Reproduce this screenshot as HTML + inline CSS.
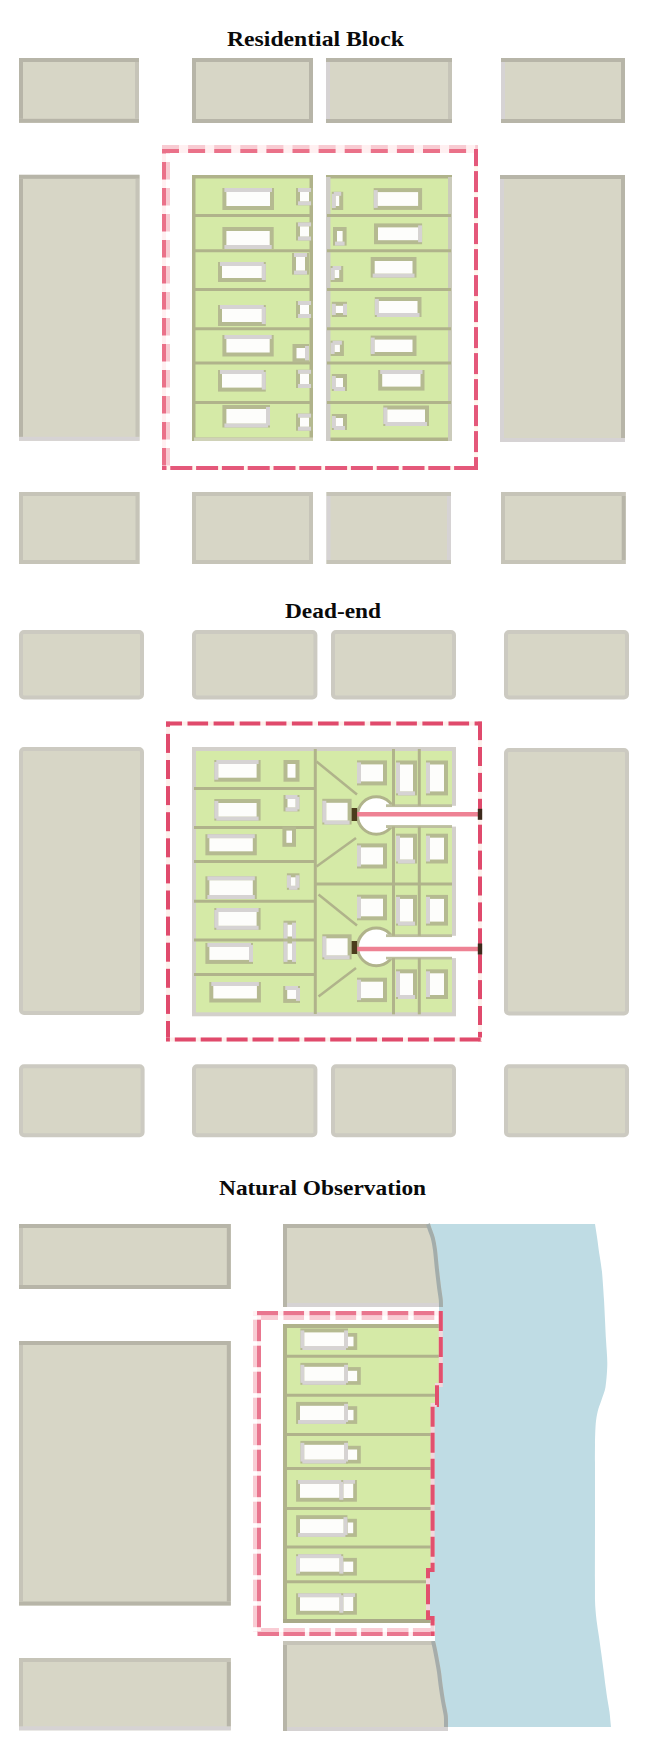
<!DOCTYPE html>
<html><head><meta charset="utf-8"><style>
html,body{margin:0;padding:0;background:#ffffff;}
body{width:655px;height:1749px;position:relative;overflow:hidden;}
svg{position:absolute;left:0;top:0;}
.t{position:absolute;font-family:"Liberation Serif",serif;font-weight:bold;font-size:21px;color:#0a0a0a;white-space:nowrap;line-height:1;transform-origin:0 0;}
</style></head><body>
<svg width="655" height="1749" viewBox="0 0 655 1749" shape-rendering="geometricPrecision">
<rect x="19.00" y="58.00" width="120.00" height="64.80" rx="0" fill="#d7d6c6" />
<rect x="19.00" y="58.00" width="120.00" height="4.00" rx="0" fill="#b7b5a8" />
<rect x="19.00" y="118.80" width="120.00" height="4.00" rx="0" fill="#b7b5a8" />
<rect x="19.00" y="62.00" width="4.00" height="56.80" rx="0" fill="#b7b5a8" />
<rect x="135.00" y="62.00" width="4.00" height="56.80" rx="0" fill="#c6c4b8" />
<rect x="192.00" y="58.00" width="121.00" height="65.00" rx="0" fill="#d7d6c6" />
<rect x="192.00" y="58.00" width="121.00" height="4.00" rx="0" fill="#b7b5a8" />
<rect x="192.00" y="119.00" width="121.00" height="4.00" rx="0" fill="#b7b5a8" />
<rect x="192.00" y="62.00" width="4.00" height="57.00" rx="0" fill="#b7b5a8" />
<rect x="309.00" y="62.00" width="4.00" height="57.00" rx="0" fill="#b7b5a8" />
<rect x="326.00" y="58.00" width="126.00" height="65.00" rx="0" fill="#d7d6c6" />
<rect x="326.00" y="58.00" width="126.00" height="4.00" rx="0" fill="#b7b5a8" />
<rect x="326.00" y="119.00" width="126.00" height="4.00" rx="0" fill="#b7b5a8" />
<rect x="326.00" y="62.00" width="4.00" height="57.00" rx="0" fill="#d6d3d4" />
<rect x="448.00" y="62.00" width="4.00" height="57.00" rx="0" fill="#c6c4b8" />
<rect x="501.00" y="58.00" width="124.00" height="65.00" rx="0" fill="#d7d6c6" />
<rect x="501.00" y="58.00" width="124.00" height="4.00" rx="0" fill="#b7b5a8" />
<rect x="501.00" y="119.00" width="124.00" height="4.00" rx="0" fill="#b7b5a8" />
<rect x="501.00" y="62.00" width="4.00" height="57.00" rx="0" fill="#d6d3d4" />
<rect x="621.00" y="62.00" width="4.00" height="57.00" rx="0" fill="#b7b5a8" />
<rect x="19.00" y="174.80" width="120.50" height="266.00" rx="0" fill="#d7d6c6" />
<rect x="19.00" y="174.80" width="120.50" height="4.00" rx="0" fill="#b7b5a8" />
<rect x="19.00" y="436.80" width="120.50" height="4.00" rx="0" fill="#d6d3d4" />
<rect x="19.00" y="178.80" width="4.00" height="258.00" rx="0" fill="#b7b5a8" />
<rect x="135.50" y="178.80" width="4.00" height="258.00" rx="0" fill="#c6c4b8" />
<rect x="500.00" y="175.00" width="125.00" height="267.00" rx="0" fill="#d7d6c6" />
<rect x="500.00" y="175.00" width="125.00" height="4.00" rx="0" fill="#b7b5a8" />
<rect x="500.00" y="438.00" width="125.00" height="4.00" rx="0" fill="#d6d3d4" />
<rect x="500.00" y="179.00" width="4.00" height="259.00" rx="0" fill="#d6d3d4" />
<rect x="621.00" y="179.00" width="4.00" height="259.00" rx="0" fill="#b7b5a8" />
<rect x="19.00" y="492.00" width="120.50" height="72.00" rx="0" fill="#d7d6c6" />
<rect x="19.00" y="492.00" width="120.50" height="4.00" rx="0" fill="#c6c4b8" />
<rect x="19.00" y="560.00" width="120.50" height="4.00" rx="0" fill="#c6c4b8" />
<rect x="19.00" y="496.00" width="4.00" height="64.00" rx="0" fill="#c6c4b8" />
<rect x="135.50" y="496.00" width="4.00" height="64.00" rx="0" fill="#c6c4b8" />
<rect x="192.00" y="492.00" width="121.00" height="72.00" rx="0" fill="#d7d6c6" />
<rect x="192.00" y="492.00" width="121.00" height="4.00" rx="0" fill="#c6c4b8" />
<rect x="192.00" y="560.00" width="121.00" height="4.00" rx="0" fill="#c6c4b8" />
<rect x="192.00" y="496.00" width="4.00" height="64.00" rx="0" fill="#c6c4b8" />
<rect x="309.00" y="496.00" width="4.00" height="64.00" rx="0" fill="#c6c4b8" />
<rect x="326.50" y="492.00" width="124.50" height="72.00" rx="0" fill="#d7d6c6" />
<rect x="326.50" y="492.00" width="124.50" height="4.00" rx="0" fill="#c6c4b8" />
<rect x="326.50" y="560.00" width="124.50" height="4.00" rx="0" fill="#c6c4b8" />
<rect x="326.50" y="496.00" width="4.00" height="64.00" rx="0" fill="#d6d3d4" />
<rect x="447.00" y="496.00" width="4.00" height="64.00" rx="0" fill="#d6d3d4" />
<rect x="501.00" y="492.00" width="124.70" height="72.00" rx="0" fill="#d7d6c6" />
<rect x="501.00" y="492.00" width="124.70" height="4.00" rx="0" fill="#c6c4b8" />
<rect x="501.00" y="560.00" width="124.70" height="4.00" rx="0" fill="#c6c4b8" />
<rect x="501.00" y="496.00" width="4.00" height="64.00" rx="0" fill="#c6c4b8" />
<rect x="621.70" y="496.00" width="4.00" height="64.00" rx="0" fill="#b7b5a8" />
<rect x="193.75" y="176.75" width="117.50" height="262.50" rx="0" fill="#d5eaa7" stroke="#b0b38b" stroke-width="3.5" />
<rect x="327.75" y="176.75" width="122.50" height="262.50" rx="0" fill="#d5eaa7" stroke="#b0b38b" stroke-width="3.5" />
<rect x="326.00" y="177.00" width="4.50" height="264.00" rx="0" fill="#cfcdc8" />
<rect x="448.00" y="177.00" width="4.00" height="264.00" rx="0" fill="#cbcbbb" />
<rect x="194.00" y="437.50" width="119.00" height="3.50" rx="0" fill="#d0d2b8" />
<line x1="193.00" y1="215.50" x2="312.00" y2="215.50" stroke="#b0b38b" stroke-width="3"/>
<line x1="327.00" y1="215.50" x2="451.00" y2="215.50" stroke="#b0b38b" stroke-width="3"/>
<line x1="193.00" y1="250.80" x2="312.00" y2="250.80" stroke="#b0b38b" stroke-width="3"/>
<line x1="327.00" y1="250.80" x2="451.00" y2="250.80" stroke="#b0b38b" stroke-width="3"/>
<line x1="193.00" y1="289.60" x2="312.00" y2="289.60" stroke="#b0b38b" stroke-width="3"/>
<line x1="327.00" y1="289.60" x2="451.00" y2="289.60" stroke="#b0b38b" stroke-width="3"/>
<line x1="193.00" y1="328.70" x2="312.00" y2="328.70" stroke="#b0b38b" stroke-width="3"/>
<line x1="327.00" y1="328.70" x2="451.00" y2="328.70" stroke="#b0b38b" stroke-width="3"/>
<line x1="193.00" y1="362.90" x2="312.00" y2="362.90" stroke="#b0b38b" stroke-width="3"/>
<line x1="327.00" y1="362.90" x2="451.00" y2="362.90" stroke="#b0b38b" stroke-width="3"/>
<line x1="193.00" y1="402.50" x2="312.00" y2="402.50" stroke="#b0b38b" stroke-width="3"/>
<line x1="327.00" y1="402.50" x2="451.00" y2="402.50" stroke="#b0b38b" stroke-width="3"/>
<rect x="222.40" y="188.00" width="51.60" height="22.00" rx="0" fill="#b5ba91" />
<rect x="224.40" y="188.00" width="47.60" height="4.00" rx="0" fill="#d6d3d3" />
<rect x="226.40" y="192.00" width="43.60" height="14.00" rx="0" fill="#fdfdfb" />
<rect x="222.40" y="227.00" width="51.30" height="22.00" rx="0" fill="#b5ba91" />
<rect x="224.40" y="245.00" width="47.30" height="4.00" rx="0" fill="#d6d3d3" />
<rect x="226.40" y="231.00" width="43.30" height="14.00" rx="0" fill="#fdfdfb" />
<rect x="218.00" y="262.00" width="47.80" height="20.00" rx="0" fill="#b5ba91" />
<rect x="220.00" y="262.00" width="43.80" height="4.00" rx="0" fill="#d6d3d3" />
<rect x="261.80" y="264.00" width="4.00" height="16.00" rx="0" fill="#d6d3d3" />
<rect x="222.00" y="266.00" width="39.80" height="12.00" rx="0" fill="#fdfdfb" />
<rect x="218.00" y="305.00" width="47.80" height="21.00" rx="0" fill="#b5ba91" />
<rect x="220.00" y="305.00" width="43.80" height="4.00" rx="0" fill="#d6d3d3" />
<rect x="261.80" y="307.00" width="4.00" height="17.00" rx="0" fill="#d6d3d3" />
<rect x="222.00" y="309.00" width="39.80" height="13.00" rx="0" fill="#fdfdfb" />
<rect x="222.40" y="335.00" width="51.30" height="21.50" rx="0" fill="#b5ba91" />
<rect x="224.40" y="335.00" width="47.30" height="4.00" rx="0" fill="#d6d3d3" />
<rect x="226.40" y="339.00" width="43.30" height="13.50" rx="0" fill="#fdfdfb" />
<rect x="218.00" y="370.00" width="47.80" height="21.60" rx="0" fill="#b5ba91" />
<rect x="220.00" y="370.00" width="43.80" height="4.00" rx="0" fill="#d6d3d3" />
<rect x="261.80" y="372.00" width="4.00" height="17.60" rx="0" fill="#d6d3d3" />
<rect x="222.00" y="374.00" width="39.80" height="13.60" rx="0" fill="#fdfdfb" />
<rect x="222.40" y="405.00" width="47.60" height="22.50" rx="0" fill="#b5ba91" />
<rect x="224.40" y="423.50" width="43.60" height="4.00" rx="0" fill="#d6d3d3" />
<rect x="266.00" y="407.00" width="4.00" height="18.50" rx="0" fill="#d6d3d3" />
<rect x="226.40" y="409.00" width="39.60" height="14.50" rx="0" fill="#fdfdfb" />
<rect x="296.00" y="188.00" width="17.00" height="17.30" rx="0" fill="#b5ba91" />
<rect x="298.00" y="188.00" width="13.00" height="4.00" rx="0" fill="#d6d3d3" />
<rect x="298.00" y="201.30" width="13.00" height="4.00" rx="0" fill="#d6d3d3" />
<rect x="300.00" y="192.00" width="9.00" height="9.30" rx="0" fill="#fdfdfb" />
<rect x="296.00" y="222.40" width="17.00" height="18.10" rx="0" fill="#b5ba91" />
<rect x="298.00" y="222.40" width="13.00" height="4.00" rx="0" fill="#d6d3d3" />
<rect x="298.00" y="236.50" width="13.00" height="4.00" rx="0" fill="#d6d3d3" />
<rect x="300.00" y="226.40" width="9.00" height="10.10" rx="0" fill="#fdfdfb" />
<rect x="292.00" y="253.00" width="17.00" height="21.60" rx="0" fill="#b5ba91" />
<rect x="294.00" y="253.00" width="13.00" height="4.00" rx="0" fill="#d6d3d3" />
<rect x="294.00" y="270.60" width="13.00" height="4.00" rx="0" fill="#d6d3d3" />
<rect x="296.00" y="257.00" width="9.00" height="13.60" rx="0" fill="#fdfdfb" />
<rect x="296.00" y="301.00" width="17.00" height="17.00" rx="0" fill="#b5ba91" />
<rect x="298.00" y="301.00" width="13.00" height="4.00" rx="0" fill="#d6d3d3" />
<rect x="298.00" y="314.00" width="13.00" height="4.00" rx="0" fill="#d6d3d3" />
<rect x="300.00" y="305.00" width="9.00" height="9.00" rx="0" fill="#fdfdfb" />
<rect x="292.50" y="344.00" width="16.50" height="18.30" rx="0" fill="#b5ba91" />
<rect x="305.00" y="346.00" width="4.00" height="14.30" rx="0" fill="#d6d3d3" />
<rect x="296.50" y="348.00" width="8.50" height="10.30" rx="0" fill="#fdfdfb" />
<rect x="296.00" y="369.80" width="17.00" height="18.20" rx="0" fill="#b5ba91" />
<rect x="298.00" y="369.80" width="13.00" height="4.00" rx="0" fill="#d6d3d3" />
<rect x="298.00" y="384.00" width="13.00" height="4.00" rx="0" fill="#d6d3d3" />
<rect x="300.00" y="373.80" width="9.00" height="10.20" rx="0" fill="#fdfdfb" />
<rect x="296.00" y="413.60" width="17.00" height="17.10" rx="0" fill="#b5ba91" />
<rect x="298.00" y="413.60" width="13.00" height="4.00" rx="0" fill="#d6d3d3" />
<rect x="298.00" y="426.70" width="13.00" height="4.00" rx="0" fill="#d6d3d3" />
<rect x="300.00" y="417.60" width="9.00" height="9.10" rx="0" fill="#fdfdfb" />
<rect x="373.70" y="188.10" width="48.40" height="21.80" rx="0" fill="#b5ba91" />
<rect x="373.70" y="190.10" width="4.00" height="17.80" rx="0" fill="#d6d3d3" />
<rect x="377.70" y="192.10" width="40.40" height="13.80" rx="0" fill="#fdfdfb" />
<rect x="374.00" y="223.40" width="48.10" height="20.80" rx="0" fill="#b5ba91" />
<rect x="418.10" y="225.40" width="4.00" height="16.80" rx="0" fill="#d6d3d3" />
<rect x="378.00" y="227.40" width="40.10" height="12.80" rx="0" fill="#fdfdfb" />
<rect x="370.70" y="257.00" width="45.80" height="20.60" rx="0" fill="#b5ba91" />
<rect x="372.70" y="273.60" width="41.80" height="4.00" rx="0" fill="#d6d3d3" />
<rect x="374.70" y="261.00" width="37.80" height="12.60" rx="0" fill="#fdfdfb" />
<rect x="374.80" y="297.00" width="46.70" height="20.00" rx="0" fill="#b5ba91" />
<rect x="376.80" y="313.00" width="42.70" height="4.00" rx="0" fill="#d6d3d3" />
<rect x="374.80" y="299.00" width="4.00" height="16.00" rx="0" fill="#d6d3d3" />
<rect x="378.80" y="301.00" width="38.70" height="12.00" rx="0" fill="#fdfdfb" />
<rect x="370.70" y="335.60" width="45.80" height="20.40" rx="0" fill="#b5ba91" />
<rect x="370.70" y="337.60" width="4.00" height="16.40" rx="0" fill="#d6d3d3" />
<rect x="374.70" y="339.60" width="37.80" height="12.40" rx="0" fill="#fdfdfb" />
<rect x="378.20" y="370.00" width="46.30" height="20.60" rx="0" fill="#b5ba91" />
<rect x="380.20" y="370.00" width="42.30" height="4.00" rx="0" fill="#d6d3d3" />
<rect x="382.20" y="374.00" width="38.30" height="12.60" rx="0" fill="#fdfdfb" />
<rect x="383.30" y="405.50" width="45.70" height="20.50" rx="0" fill="#b5ba91" />
<rect x="385.30" y="422.00" width="41.70" height="4.00" rx="0" fill="#d6d3d3" />
<rect x="383.30" y="407.50" width="4.00" height="16.50" rx="0" fill="#d6d3d3" />
<rect x="387.30" y="409.50" width="37.70" height="12.50" rx="0" fill="#fdfdfb" />
<rect x="331.80" y="191.80" width="11.40" height="18.20" rx="0" fill="#b5ba91" />
<rect x="333.80" y="191.80" width="7.40" height="4.00" rx="0" fill="#d6d3d3" />
<rect x="331.80" y="193.80" width="4.00" height="14.20" rx="0" fill="#d6d3d3" />
<rect x="335.80" y="195.80" width="3.40" height="10.20" rx="0" fill="#fdfdfb" />
<rect x="333.00" y="227.00" width="13.60" height="18.60" rx="0" fill="#b5ba91" />
<rect x="335.00" y="241.60" width="9.60" height="4.00" rx="0" fill="#d6d3d3" />
<rect x="337.00" y="231.00" width="5.60" height="10.60" rx="0" fill="#fdfdfb" />
<rect x="330.60" y="266.00" width="12.60" height="16.00" rx="0" fill="#b5ba91" />
<rect x="332.60" y="266.00" width="8.60" height="4.00" rx="0" fill="#d6d3d3" />
<rect x="330.60" y="268.00" width="4.00" height="12.00" rx="0" fill="#d6d3d3" />
<rect x="334.60" y="270.00" width="4.60" height="8.00" rx="0" fill="#fdfdfb" />
<rect x="331.80" y="301.80" width="15.20" height="15.20" rx="0" fill="#b5ba91" />
<rect x="331.80" y="303.80" width="4.00" height="11.20" rx="0" fill="#d6d3d3" />
<rect x="343.00" y="303.80" width="4.00" height="11.20" rx="0" fill="#d6d3d3" />
<rect x="335.80" y="305.80" width="7.20" height="7.20" rx="0" fill="#fdfdfb" />
<rect x="330.60" y="340.70" width="13.30" height="15.30" rx="0" fill="#b5ba91" />
<rect x="332.60" y="340.70" width="9.30" height="4.00" rx="0" fill="#d6d3d3" />
<rect x="330.60" y="342.70" width="4.00" height="11.30" rx="0" fill="#d6d3d3" />
<rect x="334.60" y="344.70" width="5.30" height="7.30" rx="0" fill="#fdfdfb" />
<rect x="331.80" y="374.00" width="15.20" height="17.00" rx="0" fill="#b5ba91" />
<rect x="333.80" y="387.00" width="11.20" height="4.00" rx="0" fill="#d6d3d3" />
<rect x="331.80" y="376.00" width="4.00" height="13.00" rx="0" fill="#d6d3d3" />
<rect x="335.80" y="378.00" width="7.20" height="9.00" rx="0" fill="#fdfdfb" />
<rect x="331.80" y="414.00" width="15.20" height="16.00" rx="0" fill="#b5ba91" />
<rect x="333.80" y="426.00" width="11.20" height="4.00" rx="0" fill="#d6d3d3" />
<rect x="331.80" y="416.00" width="4.00" height="12.00" rx="0" fill="#d6d3d3" />
<rect x="335.80" y="418.00" width="7.20" height="8.00" rx="0" fill="#fdfdfb" />
<rect x="162.00" y="145.00" width="316.00" height="4.00" rx="0" fill="#fff0f1" />
<rect x="162.00" y="145.00" width="17.00" height="4.00" rx="0" fill="#f8cbd2" />
<rect x="188.10" y="145.00" width="17.00" height="4.00" rx="0" fill="#f8cbd2" />
<rect x="214.20" y="145.00" width="17.00" height="4.00" rx="0" fill="#f8cbd2" />
<rect x="240.30" y="145.00" width="17.00" height="4.00" rx="0" fill="#f8cbd2" />
<rect x="266.40" y="145.00" width="17.00" height="4.00" rx="0" fill="#f8cbd2" />
<rect x="292.50" y="145.00" width="17.00" height="4.00" rx="0" fill="#f8cbd2" />
<rect x="318.60" y="145.00" width="17.00" height="4.00" rx="0" fill="#f8cbd2" />
<rect x="344.70" y="145.00" width="17.00" height="4.00" rx="0" fill="#f8cbd2" />
<rect x="370.80" y="145.00" width="17.00" height="4.00" rx="0" fill="#f8cbd2" />
<rect x="396.90" y="145.00" width="17.00" height="4.00" rx="0" fill="#f8cbd2" />
<rect x="423.00" y="145.00" width="17.00" height="4.00" rx="0" fill="#f8cbd2" />
<rect x="449.10" y="145.00" width="17.00" height="4.00" rx="0" fill="#f8cbd2" />
<rect x="475.20" y="145.00" width="2.80" height="4.00" rx="0" fill="#f8cbd2" />
<rect x="162.00" y="149.00" width="312.00" height="4.00" rx="0" fill="#fff0f1" />
<rect x="162.00" y="149.00" width="17.00" height="4.00" rx="0" fill="#ea7189" />
<rect x="188.10" y="149.00" width="17.00" height="4.00" rx="0" fill="#ea7189" />
<rect x="214.20" y="149.00" width="17.00" height="4.00" rx="0" fill="#ea7189" />
<rect x="240.30" y="149.00" width="17.00" height="4.00" rx="0" fill="#ea7189" />
<rect x="266.40" y="149.00" width="17.00" height="4.00" rx="0" fill="#ea7189" />
<rect x="292.50" y="149.00" width="17.00" height="4.00" rx="0" fill="#ea7189" />
<rect x="318.60" y="149.00" width="17.00" height="4.00" rx="0" fill="#ea7189" />
<rect x="344.70" y="149.00" width="17.00" height="4.00" rx="0" fill="#ea7189" />
<rect x="370.80" y="149.00" width="17.00" height="4.00" rx="0" fill="#ea7189" />
<rect x="396.90" y="149.00" width="17.00" height="4.00" rx="0" fill="#ea7189" />
<rect x="423.00" y="149.00" width="17.00" height="4.00" rx="0" fill="#ea7189" />
<rect x="449.10" y="149.00" width="17.00" height="4.00" rx="0" fill="#ea7189" />
<rect x="162.00" y="149.00" width="4.00" height="317.00" rx="0" fill="#fff0f1" />
<rect x="162.00" y="149.00" width="4.00" height="4.50" rx="0" fill="#ea7189" />
<rect x="162.00" y="162.00" width="4.00" height="17.50" rx="0" fill="#ea7189" />
<rect x="162.00" y="188.00" width="4.00" height="17.50" rx="0" fill="#ea7189" />
<rect x="162.00" y="214.00" width="4.00" height="17.50" rx="0" fill="#ea7189" />
<rect x="162.00" y="240.00" width="4.00" height="17.50" rx="0" fill="#ea7189" />
<rect x="162.00" y="266.00" width="4.00" height="17.50" rx="0" fill="#ea7189" />
<rect x="162.00" y="292.00" width="4.00" height="17.50" rx="0" fill="#ea7189" />
<rect x="162.00" y="318.00" width="4.00" height="17.50" rx="0" fill="#ea7189" />
<rect x="162.00" y="344.00" width="4.00" height="17.50" rx="0" fill="#ea7189" />
<rect x="162.00" y="370.00" width="4.00" height="17.50" rx="0" fill="#ea7189" />
<rect x="162.00" y="396.00" width="4.00" height="17.50" rx="0" fill="#ea7189" />
<rect x="162.00" y="422.00" width="4.00" height="17.50" rx="0" fill="#ea7189" />
<rect x="162.00" y="448.00" width="4.00" height="17.50" rx="0" fill="#ea7189" />
<rect x="166.00" y="153.00" width="4.00" height="0.50" rx="0" fill="#f8cbd2" />
<rect x="166.00" y="162.00" width="4.00" height="17.50" rx="0" fill="#f8cbd2" />
<rect x="166.00" y="188.00" width="4.00" height="17.50" rx="0" fill="#f8cbd2" />
<rect x="166.00" y="214.00" width="4.00" height="17.50" rx="0" fill="#f8cbd2" />
<rect x="166.00" y="240.00" width="4.00" height="17.50" rx="0" fill="#f8cbd2" />
<rect x="166.00" y="266.00" width="4.00" height="17.50" rx="0" fill="#f8cbd2" />
<rect x="166.00" y="292.00" width="4.00" height="17.50" rx="0" fill="#f8cbd2" />
<rect x="166.00" y="318.00" width="4.00" height="17.50" rx="0" fill="#f8cbd2" />
<rect x="166.00" y="344.00" width="4.00" height="17.50" rx="0" fill="#f8cbd2" />
<rect x="166.00" y="370.00" width="4.00" height="17.50" rx="0" fill="#f8cbd2" />
<rect x="166.00" y="396.00" width="4.00" height="17.50" rx="0" fill="#f8cbd2" />
<rect x="166.00" y="422.00" width="4.00" height="17.50" rx="0" fill="#f8cbd2" />
<rect x="166.00" y="448.00" width="4.00" height="17.50" rx="0" fill="#f8cbd2" />
<rect x="474.00" y="149.00" width="4.00" height="321.00" rx="0" fill="#fff6ee" />
<rect x="474.00" y="149.00" width="4.00" height="17.10" rx="0" fill="#e4587a" />
<rect x="474.00" y="171.10" width="4.00" height="21.00" rx="0" fill="#e4587a" />
<rect x="474.00" y="197.10" width="4.00" height="21.00" rx="0" fill="#e4587a" />
<rect x="474.00" y="223.10" width="4.00" height="21.00" rx="0" fill="#e4587a" />
<rect x="474.00" y="249.10" width="4.00" height="21.00" rx="0" fill="#e4587a" />
<rect x="474.00" y="275.10" width="4.00" height="21.00" rx="0" fill="#e4587a" />
<rect x="474.00" y="301.10" width="4.00" height="21.00" rx="0" fill="#e4587a" />
<rect x="474.00" y="327.10" width="4.00" height="21.00" rx="0" fill="#e4587a" />
<rect x="474.00" y="353.10" width="4.00" height="21.00" rx="0" fill="#e4587a" />
<rect x="474.00" y="379.10" width="4.00" height="21.00" rx="0" fill="#e4587a" />
<rect x="474.00" y="405.10" width="4.00" height="21.00" rx="0" fill="#e4587a" />
<rect x="474.00" y="431.10" width="4.00" height="21.00" rx="0" fill="#e4587a" />
<rect x="474.00" y="457.10" width="4.00" height="12.90" rx="0" fill="#e4587a" />
<rect x="162.00" y="466.00" width="312.00" height="4.00" rx="0" fill="#fff6ee" />
<rect x="162.00" y="466.00" width="4.50" height="4.00" rx="0" fill="#e4587a" />
<rect x="170.30" y="466.00" width="22.00" height="4.00" rx="0" fill="#e4587a" />
<rect x="196.10" y="466.00" width="22.00" height="4.00" rx="0" fill="#e4587a" />
<rect x="221.90" y="466.00" width="22.00" height="4.00" rx="0" fill="#e4587a" />
<rect x="247.70" y="466.00" width="22.00" height="4.00" rx="0" fill="#e4587a" />
<rect x="273.50" y="466.00" width="22.00" height="4.00" rx="0" fill="#e4587a" />
<rect x="299.30" y="466.00" width="22.00" height="4.00" rx="0" fill="#e4587a" />
<rect x="325.10" y="466.00" width="22.00" height="4.00" rx="0" fill="#e4587a" />
<rect x="350.90" y="466.00" width="22.00" height="4.00" rx="0" fill="#e4587a" />
<rect x="376.70" y="466.00" width="22.00" height="4.00" rx="0" fill="#e4587a" />
<rect x="402.50" y="466.00" width="22.00" height="4.00" rx="0" fill="#e4587a" />
<rect x="428.30" y="466.00" width="22.00" height="4.00" rx="0" fill="#e4587a" />
<rect x="454.10" y="466.00" width="19.90" height="4.00" rx="0" fill="#e4587a" />
<rect x="21.00" y="632.00" width="121.00" height="65.50" rx="3" fill="#d7d6c6" stroke="#cccac1" stroke-width="4" />
<rect x="194.00" y="632.00" width="121.40" height="65.50" rx="3" fill="#d7d6c6" stroke="#cccac1" stroke-width="4" />
<rect x="333.00" y="632.00" width="121.00" height="65.50" rx="3" fill="#d7d6c6" stroke="#cccac1" stroke-width="4" />
<rect x="506.00" y="632.00" width="121.00" height="65.50" rx="3" fill="#d7d6c6" stroke="#cccac1" stroke-width="4" />
<rect x="21.00" y="749.00" width="121.00" height="264.00" rx="3" fill="#d7d6c6" stroke="#cccac1" stroke-width="4" />
<rect x="506.00" y="750.00" width="121.00" height="263.50" rx="3" fill="#d7d6c6" stroke="#cccac1" stroke-width="4" />
<rect x="21.00" y="1066.30" width="121.60" height="69.00" rx="3" fill="#d7d6c6" stroke="#cccac1" stroke-width="4" />
<rect x="194.00" y="1066.30" width="121.40" height="69.00" rx="3" fill="#d7d6c6" stroke="#cccac1" stroke-width="4" />
<rect x="333.00" y="1066.30" width="121.00" height="69.00" rx="3" fill="#d7d6c6" stroke="#cccac1" stroke-width="4" />
<rect x="506.00" y="1066.30" width="121.00" height="69.00" rx="3" fill="#d7d6c6" stroke="#cccac1" stroke-width="4" />
<rect x="194.00" y="749.00" width="260.00" height="265.30" rx="0" fill="#d5eaa7" stroke="#d3d0cb" stroke-width="4" />
<line x1="315.30" y1="749.00" x2="315.30" y2="1014.00" stroke="#b0b38b" stroke-width="3"/>
<line x1="194.00" y1="788.50" x2="315.00" y2="788.50" stroke="#b0b38b" stroke-width="3"/>
<line x1="194.00" y1="827.50" x2="315.00" y2="827.50" stroke="#b0b38b" stroke-width="3"/>
<line x1="194.00" y1="861.40" x2="315.00" y2="861.40" stroke="#b0b38b" stroke-width="3"/>
<line x1="194.00" y1="901.20" x2="315.00" y2="901.20" stroke="#b0b38b" stroke-width="3"/>
<line x1="194.00" y1="940.10" x2="315.00" y2="940.10" stroke="#b0b38b" stroke-width="3"/>
<line x1="194.00" y1="974.50" x2="315.00" y2="974.50" stroke="#b0b38b" stroke-width="3"/>
<line x1="315.00" y1="884.00" x2="452.00" y2="884.00" stroke="#b0b38b" stroke-width="3"/>
<line x1="316.50" y1="761.50" x2="357.00" y2="794.50" stroke="#b0b38b" stroke-width="2.5"/>
<line x1="356.00" y1="838.00" x2="316.50" y2="866.50" stroke="#b0b38b" stroke-width="2.5"/>
<line x1="318.50" y1="894.50" x2="357.00" y2="925.50" stroke="#b0b38b" stroke-width="2.5"/>
<line x1="356.00" y1="968.00" x2="318.50" y2="996.50" stroke="#b0b38b" stroke-width="2.5"/>
<circle cx="376.3" cy="815.5" r="18.8" fill="#ffffff" stroke="#b0b38b" stroke-width="3"/>
<rect x="378" y="805.8" width="78" height="20.80" fill="#ffffff"/>
<line x1="386.00" y1="805.80" x2="452.00" y2="805.80" stroke="#bdbf9f" stroke-width="3"/>
<line x1="386.00" y1="826.60" x2="452.00" y2="826.60" stroke="#bdbf9f" stroke-width="3"/>
<rect x="377.00" y="807.30" width="80.00" height="17.80" rx="0" fill="#ffffff" />
<circle cx="376.3" cy="946.9" r="18.8" fill="#ffffff" stroke="#b0b38b" stroke-width="3"/>
<rect x="378" y="935.8" width="78" height="22.30" fill="#ffffff"/>
<line x1="386.00" y1="935.80" x2="452.00" y2="935.80" stroke="#bdbf9f" stroke-width="3"/>
<line x1="386.00" y1="958.10" x2="452.00" y2="958.10" stroke="#bdbf9f" stroke-width="3"/>
<rect x="377.00" y="937.30" width="80.00" height="19.30" rx="0" fill="#ffffff" />
<line x1="393.50" y1="749.00" x2="393.50" y2="805.80" stroke="#b0b38b" stroke-width="3"/>
<line x1="393.50" y1="826.60" x2="393.50" y2="935.80" stroke="#b0b38b" stroke-width="3"/>
<line x1="393.50" y1="958.10" x2="393.50" y2="1014.30" stroke="#b0b38b" stroke-width="3"/>
<line x1="419.30" y1="749.00" x2="419.30" y2="805.80" stroke="#b0b38b" stroke-width="3"/>
<line x1="419.30" y1="826.60" x2="419.30" y2="935.80" stroke="#b0b38b" stroke-width="3"/>
<line x1="419.30" y1="958.10" x2="419.30" y2="1014.30" stroke="#b0b38b" stroke-width="3"/>
<rect x="214.30" y="760.00" width="46.30" height="21.70" rx="0" fill="#b5ba91" />
<rect x="216.30" y="760.00" width="42.30" height="4.00" rx="0" fill="#d6d3d3" />
<rect x="214.30" y="762.00" width="4.00" height="17.70" rx="0" fill="#d6d3d3" />
<rect x="218.30" y="764.00" width="38.30" height="13.70" rx="0" fill="#fdfdfb" />
<rect x="214.30" y="799.00" width="46.30" height="21.60" rx="0" fill="#b5ba91" />
<rect x="216.30" y="816.60" width="42.30" height="4.00" rx="0" fill="#d6d3d3" />
<rect x="214.30" y="801.00" width="4.00" height="17.60" rx="0" fill="#d6d3d3" />
<rect x="218.30" y="803.00" width="38.30" height="13.60" rx="0" fill="#fdfdfb" />
<rect x="205.40" y="834.20" width="51.40" height="21.10" rx="0" fill="#b5ba91" />
<rect x="207.40" y="834.20" width="47.40" height="4.00" rx="0" fill="#d6d3d3" />
<rect x="209.40" y="838.20" width="43.40" height="13.10" rx="0" fill="#fdfdfb" />
<rect x="205.40" y="876.30" width="51.40" height="22.70" rx="0" fill="#b5ba91" />
<rect x="207.40" y="876.30" width="47.40" height="4.00" rx="0" fill="#d6d3d3" />
<rect x="207.40" y="895.00" width="47.40" height="4.00" rx="0" fill="#d6d3d3" />
<rect x="209.40" y="880.30" width="43.40" height="14.70" rx="0" fill="#fdfdfb" />
<rect x="214.30" y="908.00" width="46.30" height="21.80" rx="0" fill="#b5ba91" />
<rect x="216.30" y="908.00" width="42.30" height="4.00" rx="0" fill="#d6d3d3" />
<rect x="216.30" y="925.80" width="42.30" height="4.00" rx="0" fill="#d6d3d3" />
<rect x="214.30" y="910.00" width="4.00" height="17.80" rx="0" fill="#d6d3d3" />
<rect x="218.30" y="912.00" width="38.30" height="13.80" rx="0" fill="#fdfdfb" />
<rect x="205.40" y="942.90" width="47.60" height="21.00" rx="0" fill="#b5ba91" />
<rect x="207.40" y="942.90" width="43.60" height="4.00" rx="0" fill="#d6d3d3" />
<rect x="249.00" y="944.90" width="4.00" height="17.00" rx="0" fill="#d6d3d3" />
<rect x="209.40" y="946.90" width="39.60" height="13.00" rx="0" fill="#fdfdfb" />
<rect x="209.30" y="982.00" width="51.60" height="20.50" rx="0" fill="#b5ba91" />
<rect x="211.30" y="982.00" width="47.60" height="4.00" rx="0" fill="#d6d3d3" />
<rect x="213.30" y="986.00" width="43.60" height="12.50" rx="0" fill="#fdfdfb" />
<rect x="283.50" y="760.00" width="16.00" height="21.70" rx="0" fill="#b5ba91" />
<rect x="287.50" y="764.00" width="8.00" height="13.70" rx="0" fill="#fdfdfb" />
<rect x="283.50" y="795.00" width="16.00" height="16.40" rx="0" fill="#b5ba91" />
<rect x="285.50" y="795.00" width="12.00" height="4.00" rx="0" fill="#d6d3d3" />
<rect x="285.50" y="807.40" width="12.00" height="4.00" rx="0" fill="#d6d3d3" />
<rect x="295.50" y="797.00" width="4.00" height="12.40" rx="0" fill="#d6d3d3" />
<rect x="287.50" y="799.00" width="8.00" height="8.40" rx="0" fill="#fdfdfb" />
<rect x="282.40" y="826.60" width="13.60" height="20.20" rx="0" fill="#b5ba91" />
<rect x="286.40" y="830.60" width="5.60" height="12.20" rx="0" fill="#fdfdfb" />
<rect x="286.90" y="873.30" width="12.60" height="16.50" rx="0" fill="#b5ba91" />
<rect x="288.90" y="885.80" width="8.60" height="4.00" rx="0" fill="#d6d3d3" />
<rect x="286.90" y="875.30" width="4.00" height="12.50" rx="0" fill="#d6d3d3" />
<rect x="295.50" y="875.30" width="4.00" height="12.50" rx="0" fill="#d6d3d3" />
<rect x="290.90" y="877.30" width="4.60" height="8.50" rx="0" fill="#fdfdfb" />
<rect x="283.50" y="920.70" width="12.50" height="19.80" rx="0" fill="#b5ba91" />
<rect x="283.50" y="922.70" width="4.00" height="15.80" rx="0" fill="#d6d3d3" />
<rect x="292.00" y="922.70" width="4.00" height="15.80" rx="0" fill="#d6d3d3" />
<rect x="287.50" y="924.70" width="4.50" height="11.80" rx="0" fill="#fdfdfb" />
<rect x="283.50" y="939.50" width="12.50" height="24.40" rx="0" fill="#b5ba91" />
<rect x="283.50" y="941.50" width="4.00" height="20.40" rx="0" fill="#d6d3d3" />
<rect x="292.00" y="941.50" width="4.00" height="20.40" rx="0" fill="#d6d3d3" />
<rect x="287.50" y="943.50" width="4.50" height="16.40" rx="0" fill="#fdfdfb" />
<rect x="283.20" y="986.00" width="16.80" height="16.90" rx="0" fill="#b5ba91" />
<rect x="285.20" y="986.00" width="12.80" height="4.00" rx="0" fill="#d6d3d3" />
<rect x="296.00" y="988.00" width="4.00" height="12.90" rx="0" fill="#d6d3d3" />
<rect x="287.20" y="990.00" width="8.80" height="8.90" rx="0" fill="#fdfdfb" />
<rect x="357.00" y="760.40" width="30.00" height="25.00" rx="0" fill="#b5ba91" />
<rect x="357.00" y="762.40" width="4.00" height="21.00" rx="0" fill="#d6d3d3" />
<rect x="361.00" y="764.40" width="22.00" height="17.00" rx="0" fill="#fdfdfb" />
<rect x="357.00" y="843.40" width="30.00" height="25.10" rx="0" fill="#b5ba91" />
<rect x="357.00" y="845.40" width="4.00" height="21.10" rx="0" fill="#d6d3d3" />
<rect x="361.00" y="847.40" width="22.00" height="17.10" rx="0" fill="#fdfdfb" />
<rect x="357.00" y="894.70" width="30.00" height="25.60" rx="0" fill="#b5ba91" />
<rect x="357.00" y="896.70" width="4.00" height="21.60" rx="0" fill="#d6d3d3" />
<rect x="361.00" y="898.70" width="22.00" height="17.60" rx="0" fill="#fdfdfb" />
<rect x="357.00" y="977.70" width="30.00" height="24.40" rx="0" fill="#b5ba91" />
<rect x="357.00" y="979.70" width="4.00" height="20.40" rx="0" fill="#d6d3d3" />
<rect x="361.00" y="981.70" width="22.00" height="16.40" rx="0" fill="#fdfdfb" />
<rect x="322.30" y="798.80" width="29.30" height="25.70" rx="0" fill="#b5ba91" />
<rect x="324.30" y="820.50" width="25.30" height="4.00" rx="0" fill="#d6d3d3" />
<rect x="322.30" y="800.80" width="4.00" height="21.70" rx="0" fill="#d6d3d3" />
<rect x="326.30" y="802.80" width="21.30" height="17.70" rx="0" fill="#fdfdfb" />
<rect x="322.30" y="934.30" width="29.30" height="25.10" rx="0" fill="#b5ba91" />
<rect x="324.30" y="955.40" width="25.30" height="4.00" rx="0" fill="#d6d3d3" />
<rect x="322.30" y="936.30" width="4.00" height="21.10" rx="0" fill="#d6d3d3" />
<rect x="326.30" y="938.30" width="21.30" height="17.10" rx="0" fill="#fdfdfb" />
<rect x="396.00" y="760.50" width="21.00" height="34.90" rx="0" fill="#b5ba91" />
<rect x="398.00" y="791.40" width="17.00" height="4.00" rx="0" fill="#d6d3d3" />
<rect x="396.00" y="762.50" width="4.00" height="30.90" rx="0" fill="#d6d3d3" />
<rect x="400.00" y="764.50" width="13.00" height="26.90" rx="0" fill="#fdfdfb" />
<rect x="426.00" y="760.50" width="22.00" height="34.90" rx="0" fill="#b5ba91" />
<rect x="426.00" y="762.50" width="4.00" height="30.90" rx="0" fill="#d6d3d3" />
<rect x="430.00" y="764.50" width="14.00" height="26.90" rx="0" fill="#fdfdfb" />
<rect x="396.00" y="833.70" width="21.00" height="29.80" rx="0" fill="#b5ba91" />
<rect x="398.00" y="859.50" width="17.00" height="4.00" rx="0" fill="#d6d3d3" />
<rect x="396.00" y="835.70" width="4.00" height="25.80" rx="0" fill="#d6d3d3" />
<rect x="400.00" y="837.70" width="13.00" height="21.80" rx="0" fill="#fdfdfb" />
<rect x="426.00" y="833.70" width="22.00" height="29.80" rx="0" fill="#b5ba91" />
<rect x="426.00" y="835.70" width="4.00" height="25.80" rx="0" fill="#d6d3d3" />
<rect x="430.00" y="837.70" width="14.00" height="21.80" rx="0" fill="#fdfdfb" />
<rect x="396.00" y="894.90" width="21.00" height="30.70" rx="0" fill="#b5ba91" />
<rect x="398.00" y="921.60" width="17.00" height="4.00" rx="0" fill="#d6d3d3" />
<rect x="396.00" y="896.90" width="4.00" height="26.70" rx="0" fill="#d6d3d3" />
<rect x="400.00" y="898.90" width="13.00" height="22.70" rx="0" fill="#fdfdfb" />
<rect x="426.00" y="894.90" width="22.00" height="30.70" rx="0" fill="#b5ba91" />
<rect x="426.00" y="896.90" width="4.00" height="26.70" rx="0" fill="#d6d3d3" />
<rect x="430.00" y="898.90" width="14.00" height="22.70" rx="0" fill="#fdfdfb" />
<rect x="396.00" y="969.30" width="21.00" height="29.70" rx="0" fill="#b5ba91" />
<rect x="398.00" y="995.00" width="17.00" height="4.00" rx="0" fill="#d6d3d3" />
<rect x="396.00" y="971.30" width="4.00" height="25.70" rx="0" fill="#d6d3d3" />
<rect x="400.00" y="973.30" width="13.00" height="21.70" rx="0" fill="#fdfdfb" />
<rect x="426.00" y="969.30" width="22.00" height="29.70" rx="0" fill="#b5ba91" />
<rect x="426.00" y="971.30" width="4.00" height="25.70" rx="0" fill="#d6d3d3" />
<rect x="430.00" y="973.30" width="14.00" height="21.70" rx="0" fill="#fdfdfb" />
<rect x="166.00" y="721.50" width="316.00" height="4.00" rx="0" fill="#fdf0ec" />
<rect x="166.00" y="721.50" width="16.00" height="4.00" rx="0" fill="#e04a6c" />
<rect x="187.50" y="721.50" width="20.60" height="4.00" rx="0" fill="#e04a6c" />
<rect x="213.60" y="721.50" width="20.60" height="4.00" rx="0" fill="#e04a6c" />
<rect x="239.70" y="721.50" width="20.60" height="4.00" rx="0" fill="#e04a6c" />
<rect x="265.80" y="721.50" width="20.60" height="4.00" rx="0" fill="#e04a6c" />
<rect x="291.90" y="721.50" width="20.60" height="4.00" rx="0" fill="#e04a6c" />
<rect x="318.00" y="721.50" width="20.60" height="4.00" rx="0" fill="#e04a6c" />
<rect x="344.10" y="721.50" width="20.60" height="4.00" rx="0" fill="#e04a6c" />
<rect x="370.20" y="721.50" width="20.60" height="4.00" rx="0" fill="#e04a6c" />
<rect x="396.30" y="721.50" width="20.60" height="4.00" rx="0" fill="#e04a6c" />
<rect x="422.40" y="721.50" width="20.60" height="4.00" rx="0" fill="#e04a6c" />
<rect x="448.50" y="721.50" width="20.60" height="4.00" rx="0" fill="#e04a6c" />
<rect x="474.60" y="721.50" width="7.40" height="4.00" rx="0" fill="#e04a6c" />
<rect x="166.00" y="721.50" width="4.00" height="320.00" rx="0" fill="#fdf0ec" />
<rect x="166.00" y="721.50" width="4.00" height="5.30" rx="0" fill="#e04a6c" />
<rect x="166.00" y="733.90" width="4.00" height="19.00" rx="0" fill="#e04a6c" />
<rect x="166.00" y="760.00" width="4.00" height="19.00" rx="0" fill="#e04a6c" />
<rect x="166.00" y="786.10" width="4.00" height="19.00" rx="0" fill="#e04a6c" />
<rect x="166.00" y="812.20" width="4.00" height="19.00" rx="0" fill="#e04a6c" />
<rect x="166.00" y="838.30" width="4.00" height="19.00" rx="0" fill="#e04a6c" />
<rect x="166.00" y="864.40" width="4.00" height="19.00" rx="0" fill="#e04a6c" />
<rect x="166.00" y="890.50" width="4.00" height="19.00" rx="0" fill="#e04a6c" />
<rect x="166.00" y="916.60" width="4.00" height="19.00" rx="0" fill="#e04a6c" />
<rect x="166.00" y="942.70" width="4.00" height="19.00" rx="0" fill="#e04a6c" />
<rect x="166.00" y="968.80" width="4.00" height="19.00" rx="0" fill="#e04a6c" />
<rect x="166.00" y="994.90" width="4.00" height="19.00" rx="0" fill="#e04a6c" />
<rect x="166.00" y="1021.00" width="4.00" height="19.00" rx="0" fill="#e04a6c" />
<rect x="478.00" y="721.50" width="4.00" height="320.00" rx="0" fill="#fdf0ec" />
<rect x="478.00" y="721.50" width="4.00" height="18.60" rx="0" fill="#e04a6c" />
<rect x="478.00" y="747.00" width="4.00" height="19.00" rx="0" fill="#e04a6c" />
<rect x="478.00" y="772.90" width="4.00" height="19.00" rx="0" fill="#e04a6c" />
<rect x="478.00" y="798.80" width="4.00" height="19.00" rx="0" fill="#e04a6c" />
<rect x="478.00" y="824.70" width="4.00" height="19.00" rx="0" fill="#e04a6c" />
<rect x="478.00" y="850.60" width="4.00" height="19.00" rx="0" fill="#e04a6c" />
<rect x="478.00" y="876.50" width="4.00" height="19.00" rx="0" fill="#e04a6c" />
<rect x="478.00" y="902.40" width="4.00" height="19.00" rx="0" fill="#e04a6c" />
<rect x="478.00" y="928.30" width="4.00" height="19.00" rx="0" fill="#e04a6c" />
<rect x="478.00" y="954.20" width="4.00" height="19.00" rx="0" fill="#e04a6c" />
<rect x="478.00" y="980.10" width="4.00" height="19.00" rx="0" fill="#e04a6c" />
<rect x="478.00" y="1006.00" width="4.00" height="19.00" rx="0" fill="#e04a6c" />
<rect x="478.00" y="1031.90" width="4.00" height="9.60" rx="0" fill="#e04a6c" />
<rect x="166.00" y="1037.50" width="316.00" height="4.00" rx="0" fill="#fdf0ec" />
<rect x="166.00" y="1037.50" width="3.90" height="4.00" rx="0" fill="#e04a6c" />
<rect x="174.80" y="1037.50" width="21.00" height="4.00" rx="0" fill="#e04a6c" />
<rect x="200.70" y="1037.50" width="21.00" height="4.00" rx="0" fill="#e04a6c" />
<rect x="226.60" y="1037.50" width="21.00" height="4.00" rx="0" fill="#e04a6c" />
<rect x="252.50" y="1037.50" width="21.00" height="4.00" rx="0" fill="#e04a6c" />
<rect x="278.40" y="1037.50" width="21.00" height="4.00" rx="0" fill="#e04a6c" />
<rect x="304.30" y="1037.50" width="21.00" height="4.00" rx="0" fill="#e04a6c" />
<rect x="330.20" y="1037.50" width="21.00" height="4.00" rx="0" fill="#e04a6c" />
<rect x="356.10" y="1037.50" width="21.00" height="4.00" rx="0" fill="#e04a6c" />
<rect x="382.00" y="1037.50" width="21.00" height="4.00" rx="0" fill="#e04a6c" />
<rect x="407.90" y="1037.50" width="21.00" height="4.00" rx="0" fill="#e04a6c" />
<rect x="433.80" y="1037.50" width="21.00" height="4.00" rx="0" fill="#e04a6c" />
<rect x="459.70" y="1037.50" width="21.00" height="4.00" rx="0" fill="#e04a6c" />
<line x1="356.00" y1="814.30" x2="478.00" y2="814.30" stroke="#ee8294" stroke-width="4.5"/>
<rect x="351.60" y="808.00" width="5.50" height="13.00" rx="0" fill="#4b3d1c" />
<rect x="477.80" y="808.80" width="4.40" height="11.00" rx="0" fill="#3d2a1c" />
<line x1="356.00" y1="949.00" x2="478.00" y2="949.00" stroke="#ee8294" stroke-width="4.5"/>
<rect x="351.60" y="941.00" width="5.50" height="13.00" rx="0" fill="#4b3d1c" />
<rect x="477.80" y="943.50" width="4.40" height="11.00" rx="0" fill="#3d2a1c" />
<rect x="19.00" y="1224.00" width="211.80" height="65.00" rx="0" fill="#d7d6c6" />
<rect x="19.00" y="1224.00" width="211.80" height="4.00" rx="0" fill="#b7b5a8" />
<rect x="19.00" y="1285.00" width="211.80" height="4.00" rx="0" fill="#b7b5a8" />
<rect x="19.00" y="1228.00" width="4.00" height="57.00" rx="0" fill="#c6c4b8" />
<rect x="226.80" y="1228.00" width="4.00" height="57.00" rx="0" fill="#b7b5a8" />
<rect x="19.00" y="1341.00" width="211.80" height="264.50" rx="0" fill="#d7d6c6" />
<rect x="19.00" y="1341.00" width="211.80" height="4.00" rx="0" fill="#b7b5a8" />
<rect x="19.00" y="1601.50" width="211.80" height="4.00" rx="0" fill="#b7b5a8" />
<rect x="19.00" y="1345.00" width="4.00" height="256.50" rx="0" fill="#c6c4b8" />
<rect x="226.80" y="1345.00" width="4.00" height="256.50" rx="0" fill="#b7b5a8" />
<rect x="19.00" y="1658.00" width="211.80" height="72.30" rx="0" fill="#d7d6c6" />
<rect x="19.00" y="1658.00" width="211.80" height="4.00" rx="0" fill="#c6c4b8" />
<rect x="19.00" y="1726.30" width="211.80" height="4.00" rx="0" fill="#d6d3d4" />
<rect x="19.00" y="1662.00" width="4.00" height="64.30" rx="0" fill="#c6c4b8" />
<rect x="226.80" y="1662.00" width="4.00" height="64.30" rx="0" fill="#b7b5a8" />
<path d="M595.00,1224.00 C595.67,1228.36 596.37,1232.64 597.00,1237.00 C597.63,1241.36 598.69,1249.30 599.50,1255.00 C600.31,1260.70 601.43,1266.27 602.00,1272.00 C602.57,1277.73 603.45,1290.61 604.00,1300.00 C604.55,1309.39 605.59,1331.96 606.00,1340.00 C606.41,1348.04 607.38,1356.27 607.30,1364.00 C607.22,1371.73 606.22,1382.50 605.50,1387.00 C604.78,1391.50 602.69,1396.30 601.50,1400.00 C600.31,1403.70 598.71,1407.22 597.80,1411.00 C596.89,1414.78 596.06,1419.60 595.70,1424.00 C595.34,1428.40 595.05,1437.96 595.00,1445.00 C594.95,1452.04 595.00,1494.88 595.00,1520.00 C595.00,1545.12 594.90,1593.28 595.00,1600.00 C595.10,1606.72 595.88,1614.28 596.50,1620.00 C597.12,1625.72 598.19,1631.30 599.00,1637.00 C599.81,1642.70 600.82,1649.98 601.50,1655.00 C602.18,1660.02 602.85,1664.97 603.50,1670.00 C604.15,1675.03 604.87,1681.30 605.50,1686.00 C606.13,1690.70 606.88,1695.97 607.50,1700.00 C608.12,1704.03 608.98,1707.96 609.50,1712.00 C610.02,1716.04 610.50,1721.97 611.00,1727.00  L425,1727 L425,1224 Z" fill="#bfdce4"/>
<path d="M283,1224 L430,1224 C430.67,1226.01 431.31,1228.00 432.00,1230.00 C432.69,1232.00 434.11,1235.25 434.80,1238.00 C435.49,1240.75 436.46,1245.95 437.00,1250.00 C437.54,1254.05 438.15,1261.98 438.80,1268.00 C439.45,1274.02 440.45,1282.64 441.00,1287.00 C441.55,1291.36 442.57,1297.67 442.80,1300.00 C443.03,1302.33 442.93,1304.65 443.00,1307.00  L283,1307 Z" fill="#d7d6c6"/>
<rect x="283.00" y="1224.00" width="147.00" height="4.00" rx="0" fill="#b7b5a8" />
<rect x="283.00" y="1228.00" width="4.00" height="79.00" rx="0" fill="#b7b5a8" />
<rect x="287.00" y="1303.00" width="152.00" height="4.00" rx="0" fill="#d6d3d4" />
<path d="M430.00,1224.00 C430.67,1226.01 431.31,1228.00 432.00,1230.00 C432.69,1232.00 434.11,1235.25 434.80,1238.00 C435.49,1240.75 436.46,1245.95 437.00,1250.00 C437.54,1254.05 438.15,1261.98 438.80,1268.00 C439.45,1274.02 440.45,1282.64 441.00,1287.00 C441.55,1291.36 442.57,1297.67 442.80,1300.00 C443.03,1302.33 442.93,1304.65 443.00,1307.00 " fill="none" stroke="#a3adab" stroke-width="4" transform="translate(-2,0)"/>
<rect x="283.00" y="1307.00" width="156.00" height="17.00" rx="0" fill="#ffffff" />
<path d="M283,1641 L435,1641 C435.67,1644.02 436.38,1646.97 437.00,1650.00 C437.62,1653.03 438.29,1656.65 438.90,1660.00 C439.51,1663.35 440.41,1667.96 441.00,1672.00 C441.59,1676.04 442.05,1681.32 442.70,1686.00 C443.35,1690.68 444.15,1695.99 445.00,1701.00 C445.85,1706.01 447.38,1712.34 447.80,1716.00 C448.22,1719.66 447.93,1723.32 448.00,1727.00  L448,1731 L283,1731 Z" fill="#d7d6c6"/>
<rect x="283.00" y="1641.00" width="152.00" height="4.00" rx="0" fill="#c6c4b8" />
<rect x="283.00" y="1645.00" width="4.00" height="86.00" rx="0" fill="#b7b5a8" />
<rect x="287.00" y="1727.00" width="161.00" height="4.00" rx="0" fill="#d5d2d2" />
<path d="M435.00,1641.00 C435.67,1644.02 436.38,1646.97 437.00,1650.00 C437.62,1653.03 438.29,1656.65 438.90,1660.00 C439.51,1663.35 440.41,1667.96 441.00,1672.00 C441.59,1676.04 442.05,1681.32 442.70,1686.00 C443.35,1690.68 444.15,1695.99 445.00,1701.00 C445.85,1706.01 447.38,1712.34 447.80,1716.00 C448.22,1719.66 447.93,1723.32 448.00,1727.00 " fill="none" stroke="#a6adab" stroke-width="4" transform="translate(-2,0)"/>
<rect x="283.00" y="1621.00" width="152.00" height="20.00" rx="0" fill="#ffffff" />
<polygon points="283,1324 440.8,1324 440.8,1385 437,1385 437,1405 432.6,1405 432.6,1570 428,1570 428,1618 432.6,1618 432.6,1623 283,1623" fill="#d5eaa7"/>
<rect x="283.00" y="1324.00" width="4.00" height="298.00" rx="0" fill="#b0b38b" />
<rect x="283.00" y="1324.00" width="157.00" height="4.00" rx="0" fill="#b0b38b" />
<rect x="283.00" y="1619.00" width="149.00" height="4.00" rx="0" fill="#a9aa88" />
<line x1="285.00" y1="1356.30" x2="440.80" y2="1356.30" stroke="#b0b38b" stroke-width="3"/>
<line x1="285.00" y1="1395.20" x2="437.00" y2="1395.20" stroke="#b0b38b" stroke-width="3"/>
<line x1="285.00" y1="1434.40" x2="432.60" y2="1434.40" stroke="#b0b38b" stroke-width="3"/>
<line x1="285.00" y1="1468.50" x2="432.60" y2="1468.50" stroke="#b0b38b" stroke-width="3"/>
<line x1="285.00" y1="1508.40" x2="432.60" y2="1508.40" stroke="#b0b38b" stroke-width="3"/>
<line x1="285.00" y1="1547.00" x2="432.60" y2="1547.00" stroke="#b0b38b" stroke-width="3"/>
<line x1="285.00" y1="1581.70" x2="428.00" y2="1581.70" stroke="#b0b38b" stroke-width="3"/>
<rect x="344.30" y="1333.00" width="12.90" height="17.00" rx="0" fill="#b5ba91" />
<rect x="344.30" y="1334.85" width="3.70" height="13.30" rx="0" fill="#d6d3d3" />
<rect x="348.00" y="1336.70" width="5.50" height="9.60" rx="0" fill="#fdfdfb" />
<rect x="300.40" y="1328.50" width="47.60" height="21.50" rx="0" fill="#b5ba91" />
<rect x="302.35" y="1346.10" width="43.70" height="3.90" rx="0" fill="#d6d3d3" />
<rect x="300.40" y="1330.45" width="3.90" height="17.60" rx="0" fill="#d6d3d3" />
<rect x="344.10" y="1330.45" width="3.90" height="17.60" rx="0" fill="#d6d3d3" />
<rect x="304.30" y="1332.40" width="39.80" height="13.70" rx="0" fill="#fdfdfb" />
<rect x="344.30" y="1367.10" width="16.50" height="17.70" rx="0" fill="#b5ba91" />
<rect x="344.30" y="1368.95" width="3.70" height="14.00" rx="0" fill="#d6d3d3" />
<rect x="348.00" y="1370.80" width="9.10" height="10.30" rx="0" fill="#fdfdfb" />
<rect x="300.40" y="1362.90" width="47.60" height="21.90" rx="0" fill="#b5ba91" />
<rect x="302.35" y="1380.90" width="43.70" height="3.90" rx="0" fill="#d6d3d3" />
<rect x="300.40" y="1364.85" width="3.90" height="18.00" rx="0" fill="#d6d3d3" />
<rect x="344.10" y="1364.85" width="3.90" height="18.00" rx="0" fill="#d6d3d3" />
<rect x="304.30" y="1366.80" width="39.80" height="14.10" rx="0" fill="#fdfdfb" />
<rect x="344.30" y="1406.20" width="12.90" height="17.70" rx="0" fill="#b5ba91" />
<rect x="344.30" y="1408.05" width="3.70" height="14.00" rx="0" fill="#d6d3d3" />
<rect x="348.00" y="1409.90" width="5.50" height="10.30" rx="0" fill="#fdfdfb" />
<rect x="296.10" y="1401.90" width="51.90" height="22.00" rx="0" fill="#b5ba91" />
<rect x="298.05" y="1420.00" width="48.00" height="3.90" rx="0" fill="#d6d3d3" />
<rect x="344.10" y="1403.85" width="3.90" height="18.10" rx="0" fill="#d6d3d3" />
<rect x="300.00" y="1405.80" width="44.10" height="14.20" rx="0" fill="#fdfdfb" />
<rect x="344.30" y="1445.80" width="16.50" height="17.70" rx="0" fill="#b5ba91" />
<rect x="344.30" y="1447.65" width="3.70" height="14.00" rx="0" fill="#d6d3d3" />
<rect x="348.00" y="1449.50" width="9.10" height="10.30" rx="0" fill="#fdfdfb" />
<rect x="300.40" y="1440.90" width="47.60" height="22.60" rx="0" fill="#b5ba91" />
<rect x="302.35" y="1459.60" width="43.70" height="3.90" rx="0" fill="#d6d3d3" />
<rect x="300.40" y="1442.85" width="3.90" height="18.70" rx="0" fill="#d6d3d3" />
<rect x="344.10" y="1442.85" width="3.90" height="18.70" rx="0" fill="#d6d3d3" />
<rect x="304.30" y="1444.80" width="39.80" height="14.80" rx="0" fill="#fdfdfb" />
<rect x="339.50" y="1480.00" width="17.40" height="21.70" rx="0" fill="#b5ba91" />
<rect x="341.35" y="1480.00" width="13.70" height="3.70" rx="0" fill="#d6d3d3" />
<rect x="339.50" y="1481.85" width="3.70" height="18.00" rx="0" fill="#d6d3d3" />
<rect x="343.20" y="1483.70" width="10.00" height="14.30" rx="0" fill="#fdfdfb" />
<rect x="296.10" y="1480.00" width="47.10" height="21.70" rx="0" fill="#b5ba91" />
<rect x="298.05" y="1480.00" width="43.20" height="3.90" rx="0" fill="#d6d3d3" />
<rect x="339.30" y="1481.95" width="3.90" height="17.80" rx="0" fill="#d6d3d3" />
<rect x="300.00" y="1483.90" width="39.30" height="13.90" rx="0" fill="#fdfdfb" />
<rect x="343.70" y="1518.80" width="13.20" height="18.10" rx="0" fill="#b5ba91" />
<rect x="343.70" y="1520.65" width="3.70" height="14.40" rx="0" fill="#d6d3d3" />
<rect x="347.40" y="1522.50" width="5.80" height="10.70" rx="0" fill="#fdfdfb" />
<rect x="296.10" y="1515.20" width="51.30" height="21.70" rx="0" fill="#b5ba91" />
<rect x="298.05" y="1533.00" width="47.40" height="3.90" rx="0" fill="#d6d3d3" />
<rect x="343.50" y="1517.15" width="3.90" height="17.80" rx="0" fill="#d6d3d3" />
<rect x="300.00" y="1519.10" width="43.50" height="13.90" rx="0" fill="#fdfdfb" />
<rect x="339.50" y="1557.90" width="17.40" height="17.70" rx="0" fill="#b5ba91" />
<rect x="339.50" y="1559.75" width="3.70" height="14.00" rx="0" fill="#d6d3d3" />
<rect x="343.20" y="1561.60" width="10.00" height="10.30" rx="0" fill="#fdfdfb" />
<rect x="296.10" y="1554.20" width="47.10" height="21.40" rx="0" fill="#b5ba91" />
<rect x="298.05" y="1554.20" width="43.20" height="3.90" rx="0" fill="#d6d3d3" />
<rect x="296.10" y="1556.15" width="3.90" height="17.50" rx="0" fill="#d6d3d3" />
<rect x="339.30" y="1556.15" width="3.90" height="17.50" rx="0" fill="#d6d3d3" />
<rect x="300.00" y="1558.10" width="39.30" height="13.60" rx="0" fill="#fdfdfb" />
<rect x="339.50" y="1593.30" width="17.40" height="21.40" rx="0" fill="#b5ba91" />
<rect x="341.35" y="1593.30" width="13.70" height="3.70" rx="0" fill="#d6d3d3" />
<rect x="339.50" y="1595.15" width="3.70" height="17.70" rx="0" fill="#d6d3d3" />
<rect x="343.20" y="1597.00" width="10.00" height="14.00" rx="0" fill="#fdfdfb" />
<rect x="296.10" y="1593.30" width="47.10" height="21.40" rx="0" fill="#b5ba91" />
<rect x="298.05" y="1593.30" width="43.20" height="3.90" rx="0" fill="#d6d3d3" />
<rect x="339.30" y="1595.25" width="3.90" height="17.50" rx="0" fill="#d6d3d3" />
<rect x="300.00" y="1597.20" width="39.30" height="13.60" rx="0" fill="#fdfdfb" />
<rect x="253.00" y="1311.00" width="188.00" height="4.50" rx="0" fill="#fff2f3" />
<rect x="257.40" y="1311.00" width="20.60" height="4.50" rx="0" fill="#e9768f" />
<rect x="283.45" y="1311.00" width="20.60" height="4.50" rx="0" fill="#e9768f" />
<rect x="309.50" y="1311.00" width="20.60" height="4.50" rx="0" fill="#e9768f" />
<rect x="335.55" y="1311.00" width="20.60" height="4.50" rx="0" fill="#e9768f" />
<rect x="361.60" y="1311.00" width="20.60" height="4.50" rx="0" fill="#e9768f" />
<rect x="387.65" y="1311.00" width="20.60" height="4.50" rx="0" fill="#e9768f" />
<rect x="413.70" y="1311.00" width="20.60" height="4.50" rx="0" fill="#e9768f" />
<rect x="439.75" y="1311.00" width="1.25" height="4.50" rx="0" fill="#e9768f" />
<rect x="261.00" y="1315.50" width="17.00" height="4.50" rx="0" fill="#f9ccd4" />
<rect x="283.45" y="1315.50" width="20.60" height="4.50" rx="0" fill="#f9ccd4" />
<rect x="309.50" y="1315.50" width="20.60" height="4.50" rx="0" fill="#f9ccd4" />
<rect x="335.55" y="1315.50" width="20.60" height="4.50" rx="0" fill="#f9ccd4" />
<rect x="361.60" y="1315.50" width="20.60" height="4.50" rx="0" fill="#f9ccd4" />
<rect x="387.65" y="1315.50" width="20.60" height="4.50" rx="0" fill="#f9ccd4" />
<rect x="413.70" y="1315.50" width="20.60" height="4.50" rx="0" fill="#f9ccd4" />
<rect x="439.75" y="1315.50" width="1.25" height="4.50" rx="0" fill="#f9ccd4" />
<rect x="257.00" y="1311.00" width="4.00" height="325.00" rx="0" fill="#fff2f3" />
<rect x="257.00" y="1311.00" width="4.00" height="4.20" rx="0" fill="#e9768f" />
<rect x="257.00" y="1319.70" width="4.00" height="21.50" rx="0" fill="#e9768f" />
<rect x="257.00" y="1345.70" width="4.00" height="21.50" rx="0" fill="#e9768f" />
<rect x="257.00" y="1371.70" width="4.00" height="21.50" rx="0" fill="#e9768f" />
<rect x="257.00" y="1397.70" width="4.00" height="21.50" rx="0" fill="#e9768f" />
<rect x="257.00" y="1423.70" width="4.00" height="21.50" rx="0" fill="#e9768f" />
<rect x="257.00" y="1449.70" width="4.00" height="21.50" rx="0" fill="#e9768f" />
<rect x="257.00" y="1475.70" width="4.00" height="21.50" rx="0" fill="#e9768f" />
<rect x="257.00" y="1501.70" width="4.00" height="21.50" rx="0" fill="#e9768f" />
<rect x="257.00" y="1527.70" width="4.00" height="21.50" rx="0" fill="#e9768f" />
<rect x="257.00" y="1553.70" width="4.00" height="21.50" rx="0" fill="#e9768f" />
<rect x="257.00" y="1579.70" width="4.00" height="21.50" rx="0" fill="#e9768f" />
<rect x="257.00" y="1605.70" width="4.00" height="21.50" rx="0" fill="#e9768f" />
<rect x="257.00" y="1631.70" width="4.00" height="4.30" rx="0" fill="#e9768f" />
<rect x="253.00" y="1315.00" width="4.00" height="0.20" rx="0" fill="#f9ccd4" />
<rect x="253.00" y="1319.70" width="4.00" height="21.50" rx="0" fill="#f9ccd4" />
<rect x="253.00" y="1345.70" width="4.00" height="21.50" rx="0" fill="#f9ccd4" />
<rect x="253.00" y="1371.70" width="4.00" height="21.50" rx="0" fill="#f9ccd4" />
<rect x="253.00" y="1397.70" width="4.00" height="21.50" rx="0" fill="#f9ccd4" />
<rect x="253.00" y="1423.70" width="4.00" height="21.50" rx="0" fill="#f9ccd4" />
<rect x="253.00" y="1449.70" width="4.00" height="21.50" rx="0" fill="#f9ccd4" />
<rect x="253.00" y="1475.70" width="4.00" height="21.50" rx="0" fill="#f9ccd4" />
<rect x="253.00" y="1501.70" width="4.00" height="21.50" rx="0" fill="#f9ccd4" />
<rect x="253.00" y="1527.70" width="4.00" height="21.50" rx="0" fill="#f9ccd4" />
<rect x="253.00" y="1553.70" width="4.00" height="21.50" rx="0" fill="#f9ccd4" />
<rect x="253.00" y="1579.70" width="4.00" height="21.50" rx="0" fill="#f9ccd4" />
<rect x="253.00" y="1605.70" width="4.00" height="21.50" rx="0" fill="#f9ccd4" />
<rect x="253.00" y="1631.70" width="4.00" height="0.30" rx="0" fill="#f9ccd4" />
<rect x="257.00" y="1632.00" width="176.00" height="4.00" rx="0" fill="#fff2f3" />
<rect x="257.50" y="1632.00" width="21.50" height="4.00" rx="0" fill="#e9768f" />
<rect x="283.40" y="1632.00" width="21.50" height="4.00" rx="0" fill="#e9768f" />
<rect x="309.30" y="1632.00" width="21.50" height="4.00" rx="0" fill="#e9768f" />
<rect x="335.20" y="1632.00" width="21.50" height="4.00" rx="0" fill="#e9768f" />
<rect x="361.10" y="1632.00" width="21.50" height="4.00" rx="0" fill="#e9768f" />
<rect x="387.00" y="1632.00" width="21.50" height="4.00" rx="0" fill="#e9768f" />
<rect x="412.90" y="1632.00" width="20.10" height="4.00" rx="0" fill="#e9768f" />
<rect x="261.00" y="1628.00" width="18.00" height="4.00" rx="0" fill="#f9ccd4" />
<rect x="283.40" y="1628.00" width="21.50" height="4.00" rx="0" fill="#f9ccd4" />
<rect x="309.30" y="1628.00" width="21.50" height="4.00" rx="0" fill="#f9ccd4" />
<rect x="335.20" y="1628.00" width="21.50" height="4.00" rx="0" fill="#f9ccd4" />
<rect x="361.10" y="1628.00" width="21.50" height="4.00" rx="0" fill="#f9ccd4" />
<rect x="387.00" y="1628.00" width="21.50" height="4.00" rx="0" fill="#f9ccd4" />
<rect x="412.90" y="1628.00" width="18.10" height="4.00" rx="0" fill="#f9ccd4" />
<polyline points="440.8,1311 440.8,1385 437,1385 437,1405 432.6,1405 432.6,1570 428,1570 428,1618 432.6,1618 432.6,1636" fill="none" stroke="#f3d6dc" stroke-width="4"/>
<polyline points="440.8,1311 440.8,1385 437,1385 437,1405 432.6,1405 432.6,1570 428,1570 428,1618 432.6,1618 432.6,1636" fill="none" stroke="#e2506e" stroke-width="4" stroke-dasharray="20 6"/>
</svg>
<div class="t" style="left:227.1px;top:29.1px;transform:scaleX(1.127)">Residential Block</div>
<div class="t" style="left:285.2px;top:600.5px;transform:scaleX(1.112)">Dead-end</div>
<div class="t" style="left:218.7px;top:1177.5px;transform:scaleX(1.113)">Natural Observation</div>
</body></html>
